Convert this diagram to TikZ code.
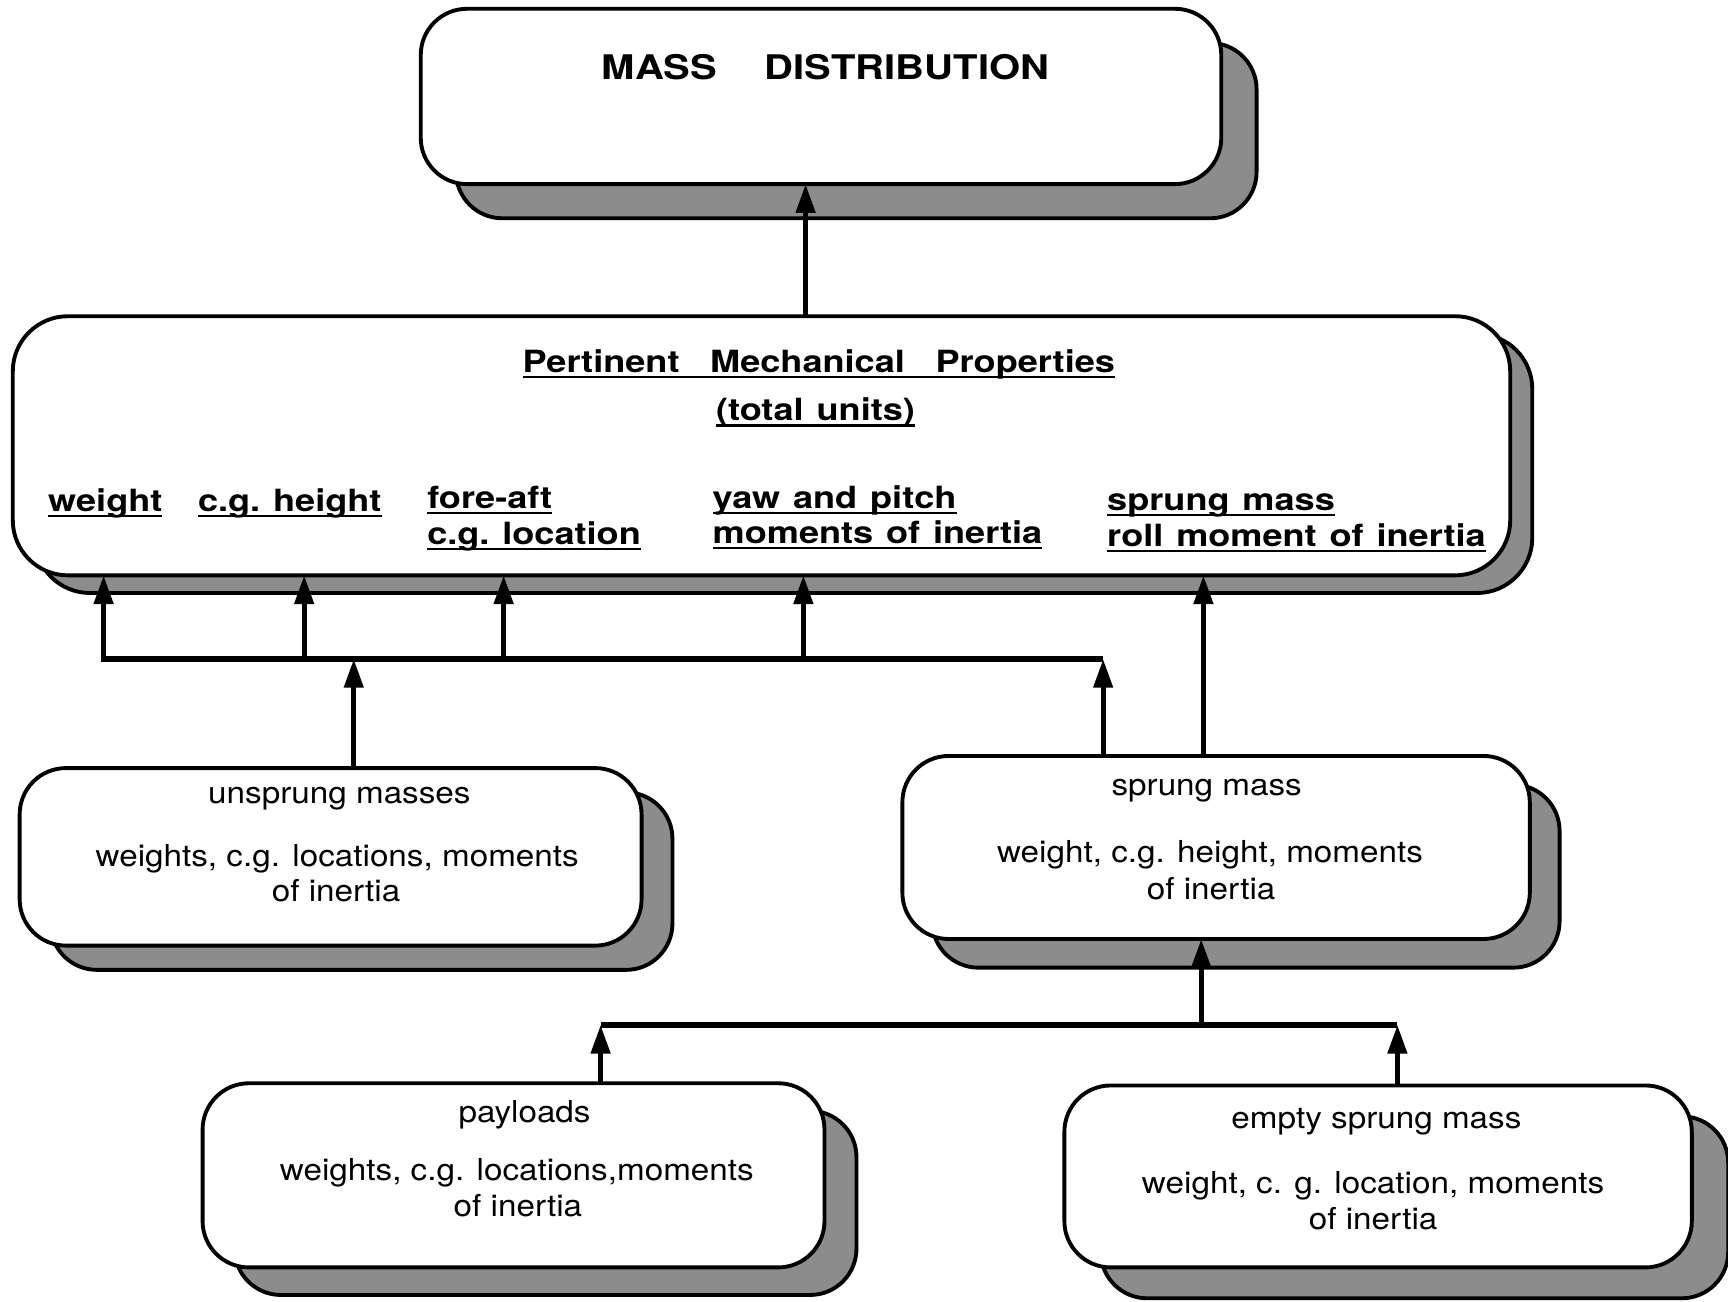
\documentclass[tikz,border=0pt]{standalone}
\usepackage{fontspec}
\setmainfont[FakeStretch=1.1]{TeX Gyre Heros}
\newfontfamily\hb[FakeStretch=1.18]{TeX Gyre Heros}
\usetikzlibrary{shadows,arrows.meta}
\newcommand\ulx[1]{\setbox0\hbox{#1}\rlap{\rule[-1.5pt]{\wd0}{0.6pt}}\box0}
\newcommand\gp{\hspace{0.42em}}
\begin{document}
\begin{tikzpicture}[x=0.01cm,y=-0.01cm,
  box/.style={draw, line width=1pt, fill=white, rounded corners=0.42cm, inner sep=0pt, outer sep=0pt},
  sh/.style 2 args={drop shadow={shadow xshift=#1, shadow yshift=#2, opacity=1, fill=black!45, draw=black, line width=1pt}},
  conn/.style={line width=1.35pt, line join=miter},
  arr/.style={conn, -{Triangle[length=0.26cm,width=0.17cm]}},
  rt/.style={anchor=base, inner sep=0pt, font=\fontsize{7.8}{9}\selectfont},
  bt/.style={anchor=base west, inner sep=0pt, font=\hb\bfseries\fontsize{7.9}{9}\selectfont},
  btc/.style={bt, anchor=base}]
\fill[white] (0,0) rectangle (1568,1181);
\useasboundingbox (0,0) rectangle (1568,1181);

% boxes
\node[box, sh={0.32cm}{-0.31cm}, minimum width=7.26cm, minimum height=1.59cm] (top) at (745,87.5) {};
\node[box, rounded corners=0.5cm, sh={0.20cm}{-0.16cm}, minimum width=13.58cm, minimum height=2.35cm] (pert) at (691,404.5) {};
\node[box, sh={0.28cm}{-0.22cm}, minimum width=5.64cm, minimum height=1.61cm] (uns) at (300,777.5) {};
\node[box, sh={0.27cm}{-0.26cm}, minimum width=5.69cm, minimum height=1.66cm] (spr) at (1103.5,769) {};
\node[box, sh={0.29cm}{-0.25cm}, minimum width=5.64cm, minimum height=1.67cm] (pay) at (466,1066.5) {};
\node[box, sh={0.33cm}{-0.28cm}, minimum width=5.69cm, minimum height=1.65cm] (emp) at (1250.5,1067.5) {};

% texts
\node[btc, font=\hb\bfseries\fontsize{8.75}{10}\selectfont] (tMD) at (749,72) {MASS\hspace{1.4em}DISTRIBUTION};
\node[btc] (tP1) at (743,338) {\ulx{Pertinent\hspace{1.0em}Mechanical\hspace{1.0em}Properties}};
\node[btc] (tP2) at (740,382) {\ulx{(total\gp units)}};
\node[bt] (lw) at (43,464) {\ulx{weight}};
\node[bt] (lh) at (179,464) {\ulx{c.g.\gp height}};
\node[bt] (lf1) at (387,461) {\ulx{fore-aft}};
\node[bt] (lf2) at (387,494) {\ulx{c.g.\gp location}};
\node[bt] (ly1) at (646,461) {\ulx{yaw\gp and\gp pitch}};
\node[bt] (ly2) at (646,493) {\ulx{moments\gp of\gp inertia}};
\node[bt] (ls1) at (1004,463) {\ulx{sprung\gp mass}};
\node[bt] (ls2) at (1004,496) {\ulx{roll\gp moment\gp of\gp inertia}};

\node[rt] (u1) at (308,729) {unsprung masses};
\node[rt] (u2) at (306,786) {weights, c.g. locations, moments};
\node[rt] (u3) at (305,818) {of inertia};
\node[rt] (s1) at (1095,722) {sprung mass};
\node[rt] (s2) at (1098,783) {weight, c.g. height, moments};
\node[rt] (s3) at (1099,816) {of inertia};
\node[rt] (p1) at (476,1019) {payloads};
\node[rt] (p2) at (469,1071) {weights, c.g. locations,moments};
\node[rt] (p3) at (470,1104) {of inertia};
\node[rt] (e1) at (1249,1024) {empty sprung mass};
\node[rt] (e2) at (1246,1083) {weight, c. g. location, moments};
\node[rt] (e3) at (1246,1116) {of inertia};

% connector coordinates
\coordinate (b0) at (94,598);
\coordinate (b1) at (276,598);
\coordinate (b2) at (457,598);
\coordinate (b3) at (729,598);
\coordinate (bu) at (321,598);
\coordinate (bs) at (1001,598);
\coordinate (sx) at (1092,600);
\coordinate (tx) at (731,230);
\coordinate (c0) at (545,930);
\coordinate (c1) at (1090,930);
\coordinate (c2) at (1268,930);

% connectors
\draw[arr] (bs) -- (b0) -- (pert.south -| b0);
\draw[arr] (b1) -- (pert.south -| b1);
\draw[arr] (b2) -- (pert.south -| b2);
\draw[arr] (b3) -- (pert.south -| b3);
\draw[arr] (uns.north -| bu) -- (bu);
\draw[arr] (spr.north -| bs) -- (bs);
\draw[arr] (spr.north -| sx) -- (pert.south -| sx);
\draw[arr] (pert.north -| tx) -- (top.south -| tx);
\draw[conn] (c0) -- (c2);
\draw[arr] (pay.north -| c0) -- (c0);
\draw[arr] (emp.north -| c2) -- (c2);
\draw[arr] (c1) -- (spr.south -| c1);
\end{tikzpicture}
\end{document}
